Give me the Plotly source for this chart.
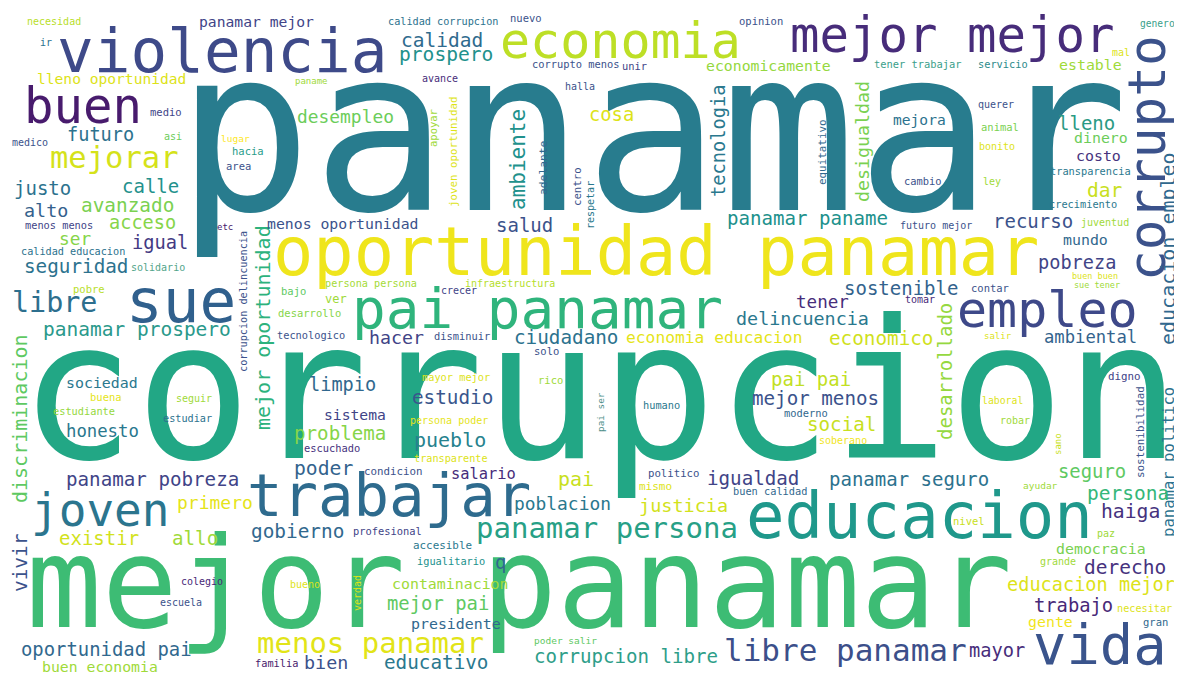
import plotly.graph_objects as go

# ---- word cloud data: words and their weights (rendered font size, px) ----
words = [
    "panamar", "corrupcion", "mejor panamar", "oportunidad panamar", "educacion", "violencia", "sue", "trabajar",
    "pai panamar", "vida", "economia", "empleo", "corrupto", "buen", "mejor mejor", "joven",
    "libre panamar", "mejorar", "menos panamar", "panamar persona", "libre", "ambiente", "discriminacion", "mejor oportunidad",
    "desarrollado", "tecnologia", "desigualdad", "educacion empleo", "panamar politico", "vivir", "calidad", "prospero",
    "desempleo", "cosa", "futuro", "justo", "calle", "alto", "avanzado", "acceso",
    "ser", "igual", "seguridad", "panamar prospero", "sociedad", "honesto", "salud", "menos oportunidad",
    "hacer", "ciudadano", "limpio", "estudio", "sistema", "problema", "pueblo", "panamar paname",
    "sostenible", "tener", "delincuencia", "economia educacion", "economico", "pai pai", "mejor menos", "social",
    "panamar pobreza", "primero", "existir", "allo", "gobierno", "oportunidad pai", "buen economia", "bien",
    "poder", "salario", "pai", "poblacion", "contaminacion", "mejor pai", "presidente", "educativo",
    "q", "corrupcion libre", "igualdad", "justicia", "panamar seguro", "seguro", "persona", "haiga",
    "democracia", "derecho", "educacion mejor", "trabajo", "gente", "mayor", "recurso", "mundo",
    "pobreza", "ambiental", "lleno", "dinero", "costo", "dar", "estable", "mejora",
    "economicamente", "panamar mejor", "lleno oportunidad", "necesidad", "ir", "medio", "medico", "asi",
    "lugar", "hacia", "area", "menos menos", "etc", "calidad educacion", "solidario", "pobre",
    "buena", "seguir", "estudiante", "estudiar", "corrupcion delincuencia", "persona persona", "infraestructura", "bajo",
    "crecer", "ver", "desarrollo", "tecnologico", "disminuir", "solo", "mayor mejor", "rico",
    "persona poder", "pai ser", "humano", "moderno", "soberano", "futuro mejor", "juventud", "buen buen",
    "sue tener", "contar", "tomar", "salir", "digno", "sostenibilidad", "laboral", "robar",
    "sano", "ayudar", "nivel", "paz", "grande", "necesitar", "gran", "politico",
    "mismo", "buen calidad", "escuchado", "transparente", "condicion", "profesional", "accesible", "igualitario",
    "verdad", "colegio", "escuela", "bueno", "familia", "poder salir", "calidad corrupcion", "nuevo",
    "corrupto menos", "unir", "avance", "paname", "halla", "opinion", "apoyar", "joven oportunidad",
    "adelante", "centro", "respetar", "equitativo", "tener trabajar", "servicio", "mal", "genero",
    "querer", "animal", "bonito", "transparencia", "cambio", "ley", "crecimiento",
]

weights = [
    226, 193, 126, 67, 64, 61, 61, 59,
    56, 55.5, 50, 50, 51, 49, 49, 46,
    31, 30.5, 29, 29, 28.4, 21, 20, 20,
    19, 18.7, 18.3, 20, 15.6, 19.4, 19.5, 19.6,
    17.9, 18.8, 18.6, 19, 19, 18.4, 19.4, 18.6,
    17.8, 18.7, 19.3, 19.5, 14.9, 17.3, 19, 14.8,
    18.3, 19.3, 18.6, 19.3, 14.7, 19.2, 20, 19.1,
    19, 17.6, 18.4, 16.3, 19.3, 19, 19.2, 19.2,
    19.2, 18, 19, 19.2, 19.4, 18.9, 14.8, 18.4,
    19.7, 15.4, 20, 17.9, 14.9, 18.9, 14.9, 19.3,
    19, 19.1, 19.2, 18.5, 19, 18.9, 19.5, 19.7,
    14.9, 19.5, 18.6, 18.8, 14.9, 18.7, 19, 14.9,
    18.6, 17.2, 19, 14.9, 14.9, 19.6, 14.9, 14.6,
    14.8, 14.7, 14.6, 10, 10, 10.5, 10, 10,
    9.5, 10.5, 10.5, 10.3, 9, 10.2, 10, 10.5,
    10.5, 10, 10.3, 10.2, 10.2, 10.2, 10, 10.5,
    10, 12, 10.5, 10.3, 10.4, 10.5, 10.3, 10.5,
    10, 9.4, 10.3, 10.4, 10, 10, 10, 8.5,
    8.5, 10.5, 10, 9, 10.8, 10.9, 9.8, 10,
    9, 9.5, 10.5, 10, 10, 10.2, 10.5, 10.7,
    11, 10.3, 10.4, 10.2, 10.8, 10.4, 10.9, 10.3,
    10, 10, 10, 10, 10.3, 9.5, 10.2, 10.5,
    10.4, 10.4, 10, 9, 10, 10.5, 10.5, 10.8,
    11.3, 10.7, 10, 10.9, 10.4, 10.3, 10, 9.6,
    10, 10.5, 10, 10.3, 10.4, 10, 10.3,
]

# words drawn rotated (reading bottom-to-top)
vertical_words = {
    "corrupto", "ambiente", "discriminacion", "mejor oportunidad", "desarrollado", "tecnologia",
    "desigualdad", "educacion empleo", "panamar politico", "vivir", "corrupcion delincuencia",
    "pai ser", "sostenibilidad", "sano", "verdad", "apoyar", "joven oportunidad", "adelante",
    "centro", "respetar", "equitativo",
}

# ---- layout of the cloud (pixel coordinates of each word's centre, as in the picture) ----
word_x = [
    652, 600, 519, 656, 919, 222, 181, 389,
    537, 1100, 620, 1047, 1147, 83, 952, 100,
    845, 114, 370, 607, 54, 518, 20, 263,
    945, 718, 862, 1168, 1169, 20, 442, 446,
    345, 611, 100, 42, 150, 46, 127, 142,
    75, 160, 76, 137, 102, 102, 524, 342,
    396, 566, 342, 452, 355, 340, 450, 807,
    901, 822, 802, 714, 881, 811, 815, 841,
    152, 215, 99, 195, 297, 106, 100, 326,
    323, 483, 576, 562, 450, 438, 456, 436,
    500, 626, 753, 683, 909, 1092, 1128, 1130,
    1101, 1125, 1091, 1073, 1050, 997, 1033, 1085,
    1077, 1090, 1086, 1101, 1098, 1105, 1090, 919,
    768, 256, 111, 54, 46, 166, 30, 173,
    235, 248, 238, 59, 225, 73, 158, 89,
    106, 194, 84, 187, 243, 371, 510, 293,
    459, 336, 309, 311, 462, 546, 456, 550,
    449, 600, 661, 806, 843, 936, 1105, 1095,
    1097, 990, 920, 998, 1124, 1140, 1002, 1015,
    1058, 1040, 969, 1106, 1058, 1144, 1155, 673,
    655, 770, 332, 451, 393, 387, 442, 451,
    357, 202, 181, 305, 276, 565, 443, 526,
    576, 634, 440, 311, 580, 761, 433, 453,
    543, 577, 590, 822, 918, 1003, 1121, 1157,
    996, 1000, 997, 1090, 923, 992, 1083,
]

word_y = [
    148, 406, 593, 257, 521, 55, 305, 500,
    313, 649, 45, 314, 158, 110, 39, 513,
    652, 160, 645, 530, 305, 160, 419, 328,
    372, 141, 142, 249, 462, 563, 42, 56,
    118, 116, 136, 189, 187, 212, 207, 224,
    240, 244, 268, 331, 384, 432, 226, 225,
    339, 339, 386, 399, 416, 435, 441, 220,
    289, 303, 320, 339, 340, 380, 400, 426,
    481, 504, 539, 540, 533, 650, 668, 664,
    470, 475, 480, 505, 585, 604, 625, 664,
    563, 658, 480, 507, 480, 472, 495, 513,
    550, 569, 586, 607, 623, 652, 222, 241,
    264, 338, 124, 139, 157, 192, 66, 121,
    67, 23, 80, 22, 43, 113, 143, 137,
    139, 152, 167, 226, 228, 252, 268, 290,
    398, 399, 412, 419, 302, 284, 284, 292,
    291, 300, 314, 336, 337, 352, 378, 381,
    421, 412, 406, 414, 441, 226, 223, 277,
    286, 289, 300, 337, 377, 432, 401, 421,
    444, 486, 522, 534, 562, 609, 623, 474,
    487, 492, 449, 459, 472, 532, 546, 562,
    593, 582, 603, 585, 664, 641, 22, 19,
    65, 67, 79, 82, 87, 22, 128, 152,
    168, 187, 205, 152, 65, 65, 53, 24,
    105, 128, 147, 172, 182, 182, 205,
]

# ---- colours (viridis-like palette) ----
word_colors = [
    "#287c8e", "#22a785", "#3dbc74", "#efe51c", "#1f988b", "#3e4a89", "#30608d", "#2e6b8e",
    "#2fb47c", "#3a548c", "#bddf26", "#3e4989", "#3b528b", "#481b6d", "#472c7a", "#2b758e",
    "#3c4f8a", "#d5e21a", "#e2e418", "#27a086", "#2d6f8e", "#21918c", "#5ec962", "#2db27d",
    "#95d840", "#2a788e", "#7ad151", "#31688e", "#2c728e", "#3b528b", "#2f6b8e", "#21918c",
    "#6ccd5a", "#dde318", "#2c728e", "#2c728e", "#23918c", "#34618d", "#7ad151", "#86d549",
    "#86d549", "#443a83", "#2c728e", "#2a998b", "#2a788e", "#2a788e", "#3b528b", "#3b528b",
    "#414487", "#2c728e", "#31688e", "#39568c", "#414487", "#86d549", "#26828e", "#21918c",
    "#33638d", "#472d7b", "#2a788e", "#e5e419", "#d0e11c", "#c2df23", "#3b528b", "#c8e020",
    "#414487", "#e5e419", "#d2e21b", "#a0da39", "#31688e", "#31688e", "#a0da39", "#3b528b",
    "#33638d", "#472d7b", "#c8e020", "#2a788e", "#a0da39", "#5ec962", "#31688e", "#2a788e",
    "#31688e", "#2e9e89", "#414487", "#d2e21b", "#2c728e", "#5ec962", "#35b779", "#46327e",
    "#7ad151", "#46327e", "#dde318", "#482878", "#f1e51d", "#472d7b", "#3b528b", "#31688e",
    "#414487", "#33638d", "#2a9a84", "#6ccd5a", "#46337e", "#c8e020", "#a0da39", "#2c728e",
    "#95d840", "#414487", "#dde318", "#b8de29", "#2c728e", "#414487", "#3b528b", "#6ccd5a",
    "#fde725", "#2a9d8a", "#3b528b", "#414487", "#481a6c", "#2c728e", "#52a58a", "#b8de29",
    "#e5e419", "#a0da39", "#95d840", "#2c728e", "#3b528b", "#a5db36", "#b5de2b", "#5ec962",
    "#414487", "#a0da39", "#86d549", "#3b528b", "#3b528b", "#3b528b", "#dde318", "#a0da39",
    "#e5e419", "#4f8f8a", "#2a788e", "#31688e", "#f1e51d", "#3b528b", "#a0da39", "#dde318",
    "#a0da39", "#3b528b", "#482878", "#dde318", "#414487", "#3b528b", "#dde318", "#a0da39",
    "#c8e020", "#a0da39", "#c8e020", "#a0da39", "#a0da39", "#dde318", "#31688e", "#3b528b",
    "#dde318", "#31688e", "#46327e", "#dde318", "#3b528b", "#414487", "#2a788e", "#21918c",
    "#dde318", "#482878", "#3b528b", "#dde318", "#481a6c", "#5ec962", "#2c728e", "#3b528b",
    "#3b528b", "#414487", "#472d7b", "#a0da39", "#3b528b", "#3b528b", "#a0da39", "#dde318",
    "#31688e", "#3b528b", "#2a788e", "#31688e", "#3aa08a", "#2a8a8a", "#dde318", "#3aa08a",
    "#3b528b", "#7ad151", "#dde318", "#2a788e", "#3b528b", "#a0da39", "#2a788e",
]

W, H = 1182, 675
PAGE_OFFSET = 8  # the browser page places the figure 8 px in from the top-left corner
FONT = "DejaVu Sans Mono"

fig = go.Figure()
# invisible anchor trace so the axes exist
fig.add_trace(go.Scatter(x=word_x, y=word_y, mode="markers", text=words,
                         marker=dict(opacity=0), hoverinfo="text", showlegend=False))

annotations = []
for w, s, x, y, c in zip(words, weights, word_x, word_y, word_colors):
    vertical = w in vertical_words
    annotations.append(dict(
        text=w, x=x, y=y if vertical else y - 0.073 * s,
        xref="x", yref="y", showarrow=False,
        xanchor="center", yanchor="middle",
        textangle=-90 if vertical else 0,
        font=dict(family=FONT, size=s, color=c),
        borderpad=0,
    ))

fig.update_layout(
    width=W, height=H, autosize=False,
    margin=dict(l=0, r=0, t=0, b=0),
    paper_bgcolor="white", plot_bgcolor="white",
    xaxis=dict(range=[PAGE_OFFSET, W + PAGE_OFFSET], visible=False, fixedrange=True),
    yaxis=dict(range=[H + PAGE_OFFSET, PAGE_OFFSET], visible=False, fixedrange=True),
    annotations=annotations,
    showlegend=False,
)

fig.write_html("out.html")
